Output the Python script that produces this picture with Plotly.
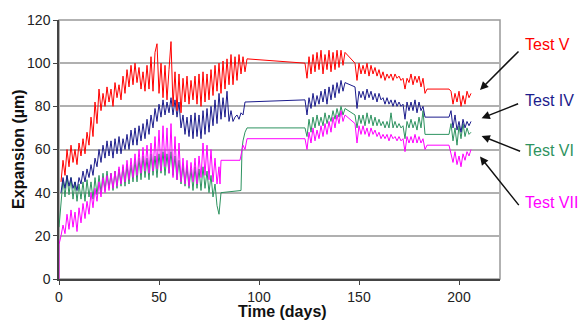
import plotly.graph_objects as go

# ---------------- data ----------------
# Test V (red)
v_seg1 = [45,55,48,60,52,62,54,60,53,63, 57,65,58,68,62,75,66,82,72,88,
          78,86,80,89,82,88,80,91,84,90, 83,94,86,97,89,99,90,100,91,98,
          88,96,87,99,88,103,87,105,109,86, 100,84,99,83,97,110,80,96,78,95,
          77,93,82,94,81,92,83,94,81,95, 80,96,82,95,83,97,85,99,87,100,
          86,101,88,102,90,104,90,103,92,104, 95,103,96,102]          # days 1..94
v_seg2 = [100,93,103,95,104,96,105,97,106,95,104,97,106,96,105,97,106,98,106,99,105]  # days 123..143
v_seg3 = [92,100,95,99,95,100,94,99,95,98, 94,97,93,96,92,95,93,95,92,95,
          93,94,92,93,88,93,91,95,90,94, 91,94,89,93,86]           # days 149..183
v_seg4 = [88,87,81,86,82,87,80,85,81,87,84,86]                      # days 195..206
v_link = [(148, 100), (184, 88)]

# Test IV (navy)
iv_seg1 = [40,47,42,48,43,47,42,45,41,47, 44,50,45,51,47,53,48,56,52,60,
           54,62,56,64,57,64,56,65,58,66, 58,65,60,67,60,69,62,70,62,71,
           64,72,65,74,67,76,70,79,73,81, 75,83,76,82,77,84,76,83,75,82,
           70,76,67,75,66,76,65,77,66,76, 65,78,67,79,68,80,71,83,72,86,
           74,84,75,87,73,78,73,75,76,74, 77,76,82]                  # days 1..93
iv_seg2 = [83,76,84,79,86,80,85,81,87,82,88,81,89,83,90,84,91,86,92,87,91]
iv_seg3 = [79,87,84,87,83,88,84,87,83,86, 82,86,83,84,81,84,81,83,80,83,
           80,82,80,81,74,82,78,82,78,83, 77,82,78,80,75]
iv_seg4 = [75,78,70,76,69,73,68,74,70,73,71,73]
iv_link = [(148, 89), (184, 75)]

# Test VI (green)
vi_seg1 = [24,37,46,38,48,39,47,37,45,36, 44,37,45,36,46,38,45,37,47,39,
           48,40,49,41,50,42,49,41,50,42, 51,43,52,43,53,44,53,45,55,45,
           56,46,57,47,56,46,58,48,57,47, 58,49,59,48,58,49,59,48,57,46,
           55,44,53,43,52,42,51,41,52,42, 51,41,52,42,50,40,48,38,44,34,
           30,40]                                                     # days 0..81
vi_step_days = [91, 91.5, 92, 93, 94]
vi_step_vals = [41, 60, 64, 68, 70]
vi_seg2 = [70,66,74,68,75,70,76,71,75,71,77,72,76,73,78,74,79,75,80,76,79]
vi_seg3 = [70,76,72,76,71,77,72,76,71,75, 71,74,71,73,70,73,70,77,70,73,
           70,72,70,71,65,73,70,74,70,73, 69,75,70,78,67]
vi_seg4 = [67,72,64,70,62,71,65,72,66,70,67,68]
vi_link = [(148, 76), (184, 67)]

# Test VII (magenta)
vii_start_days = [0, 0]
vii_start_vals = [0, 16]
vii_seg1 = [20,25,21,30,23,32,24,31,22,33, 26,35,28,36,30,40,33,42,36,45,
            38,47,40,48,41,49,42,50,43,52, 44,53,45,55,46,56,47,58,48,60,
            49,61,50,62,49,63,50,66,51,69, 50,71,52,70,49,72,47,66,46,63,
            45,56,44,55,43,54,45,56,44,57, 47,63,48,62,46,60,45,56,44,52]  # days 1..80
vii_step_days = [80.5, 81, 90.5, 91, 92, 93, 94]
vii_step_vals = [44, 55, 55, 58, 62, 60, 65]
vii_seg2 = [65,60,68,63,70,64,69,65,71,66,72,67,73,68,75,70,76,72,78,73,76]
vii_seg3 = [63,71,67,71,67,70,66,70,67,69, 66,68,65,67,65,67,64,67,65,66,
            64,66,64,65,59,66,63,66,63,67, 63,66,63,65,60]
vii_seg4 = [62,58,54,59,53,57,52,58,55,59,57,60]
vii_link = [(148, 72), (184, 62)]

x_ticks = [0, 50, 100, 150, 200]
y_ticks = [0, 20, 40, 60, 80, 100, 120]


def seq(start, vals):
    return list(range(start, start + len(vals))), list(vals)


def assemble(parts):
    xs, ys = [], []
    for d, v in parts:
        xs += list(d)
        ys += list(v)
    return xs, ys


def series(pre, seg1_start, seg1, mid, seg2, seg3, seg4, link):
    parts = []
    if pre:
        parts.append(pre)
    parts.append(seq(seg1_start, seg1))
    if mid:
        parts.append(mid)
    parts.append(seq(123, seg2))
    parts.append(([link[0][0]], [link[0][1]]))
    parts.append(seq(149, seg3))
    parts.append(([link[1][0]], [link[1][1]]))
    parts.append(seq(195, seg4))
    return assemble(parts)


data = {
    "Test VI": (series(None, 0, vi_seg1, (vi_step_days, vi_step_vals), vi_seg2, vi_seg3, vi_seg4, vi_link), "#2E9360"),
    "Test IV": (series(None, 1, iv_seg1, None, iv_seg2, iv_seg3, iv_seg4, iv_link), "#1C1C8C"),
    "Test VII": (series((vii_start_days, vii_start_vals), 1, vii_seg1, (vii_step_days, vii_step_vals), vii_seg2, vii_seg3, vii_seg4, vii_link), "#FF00FF"),
    "Test V": (series(None, 1, v_seg1, None, v_seg2, v_seg3, v_seg4, v_link), "#FF0000"),
}

fig = go.Figure()
for name, ((xs, ys), col) in data.items():
    fig.add_trace(go.Scatter(x=xs, y=ys, mode="lines", name=name,
                             line=dict(color=col, width=1), showlegend=False))

font = "Liberation Sans, Arial, sans-serif"
fig.update_layout(
    width=581, height=320,
    margin=dict(l=59, r=81, t=20, b=41, autoexpand=False),
    paper_bgcolor="white", plot_bgcolor="white",
    font=dict(family=font, size=14, color="#222"),
    xaxis=dict(range=[0, 220.5], tickvals=x_ticks, showgrid=False, zeroline=False,
               showline=True, linecolor="#444", linewidth=1.5,
               ticks="outside", ticklen=4, tickcolor="#444", automargin=False,
               tickfont=dict(size=14, color="#222")),
    yaxis=dict(range=[0, 120], tickvals=y_ticks, showgrid=True, gridcolor="#B0B0B0",
               gridwidth=1.5, zeroline=False, showline=True, linecolor="#444",
               linewidth=1.5, ticks="outside", ticklen=4, tickcolor="#444",
               automargin=False, tickfont=dict(size=14, color="#222")),
)

# plot frame (top / right borders)
fig.add_shape(type="rect", xref="paper", yref="paper", x0=0, y0=0, x1=1, y1=1,
              line=dict(color="#999", width=1.5), layer="below")

# axis titles
fig.add_annotation(text="<b>Time (days)</b>", xref="paper", yref="paper",
                   x=0.507, y=-0.127, yanchor="middle", showarrow=False,
                   font=dict(size=16, color="#111", family=font))
fig.add_annotation(text="<b>Expansion (µm)</b>", xref="paper", yref="paper",
                   x=-0.092, y=0.5, xanchor="center", yanchor="middle", textangle=-90,
                   showarrow=False, font=dict(size=16, color="#111", family=font))

# series labels (paper coords) and arrows (head in data coords, tail offset in px)
labels = [
    # text, colour, text paper x (left), text paper y (centre), head day, head value, ax, ay
    ("Test V", "#FF0000", 1.053, 0.907, 210.5, 87.6, 40, -40),
    ("Test IV", "#1C1C8C", 1.053, 0.691, 211.3, 74.5, 38, -15),
    ("Test VI", "#2E9360", 1.053, 0.498, 211.3, 66.3, 40, 16),
    ("Test VII", "#FF00FF", 1.053, 0.295, 210.5, 56.7, 40, 50),
]
for txt, col, tx, ty, hx, hy, axp, ayp in labels:
    fig.add_annotation(text=txt, x=tx, y=ty, xref="paper", yref="paper",
                       xanchor="left", yanchor="middle", showarrow=False,
                       font=dict(size=16, color=col, family=font))
    fig.add_annotation(text="", x=hx, y=hy, xref="x", yref="y",
                       ax=axp, ay=ayp, showarrow=True, arrowhead=2,
                       arrowsize=1.1, arrowwidth=1.5, arrowcolor="#111")

# remove the browser's default 8px page margin so the figure fills the window
fig.write_html("out.html", config={"displayModeBar": False},
               post_script="document.body.style.margin='0';")
